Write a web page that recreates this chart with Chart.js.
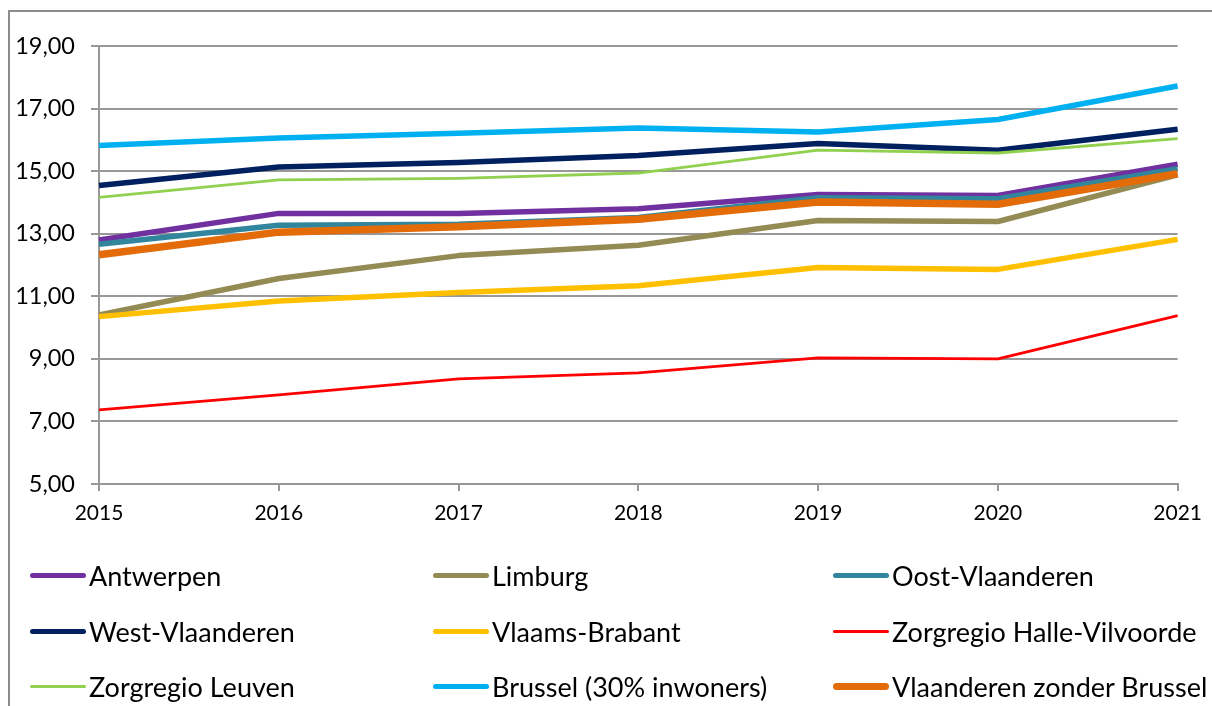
<!DOCTYPE html>
<html>
<head>
<meta charset="utf-8">
<script src="https://cdn.jsdelivr.net/npm/chart.js@4.4.1/dist/chart.umd.min.js"></script>
<style>
  html, body { margin: 0; padding: 0; width: 1212px; height: 706px; overflow: hidden; background: #fff; }
  #frame { position: absolute; left: 8px; top: 10px; width: 1400px; height: 900px; border-left: 2px solid #8c8c8c; border-top: 2px solid #8c8c8c; }
  #c { position: absolute; left: 0; top: 0; }
  #legend { position: absolute; left: 0; top: 0; width: 1212px; height: 706px; font-family: Lato, sans-serif; font-size: 27px; color: #000; }
  .item { position: absolute; display: flex; align-items: center; height: 30px; white-space: nowrap; }
  .swatch { width: 56px; border-radius: 4px; margin-right: 3px; }
</style>
</head>
<body>
<div id="frame"></div>
<canvas id="c" width="1212" height="706"></canvas>
<div id="legend"></div>
<script>
const years = ['2015', '2016', '2017', '2018', '2019', '2020', '2021'];
const seriesNames = ['Antwerpen', 'Limburg', 'Oost-Vlaanderen', 'West-Vlaanderen', 'Vlaams-Brabant',
  'Zorgregio Halle-Vilvoorde', 'Zorgregio Leuven', 'Brussel (30% inwoners)', 'Vlaanderen zonder Brussel'];
const antwerpen      = [12.80, 13.65, 13.65, 13.80, 14.25, 14.22, 15.22];
const limburg        = [10.40, 11.57, 12.30, 12.63, 13.42, 13.39, 14.88];
const oostVlaanderen = [12.66, 13.27, 13.30, 13.52, 14.15, 14.12, 15.08];
const westVlaanderen = [14.54, 15.13, 15.28, 15.50, 15.88, 15.67, 16.34];
const vlaamsBrabant  = [10.35, 10.85, 11.12, 11.34, 11.92, 11.86, 12.82];
const halleVilvoorde = [7.37, 7.85, 8.36, 8.55, 9.03, 9.00, 10.38];
const leuven         = [14.16, 14.72, 14.77, 14.94, 15.67, 15.58, 16.04];
const brussel        = [15.82, 16.06, 16.21, 16.38, 16.25, 16.65, 17.72];
const vlaanderen     = [12.33, 13.05, 13.22, 13.46, 14.01, 13.94, 14.92];
const yTickValues    = [5, 7, 9, 11, 13, 15, 17, 19];

const seriesData = [antwerpen, limburg, oostVlaanderen, westVlaanderen, vlaamsBrabant,
  halleVilvoorde, leuven, brussel, vlaanderen];
const colors = ['#7030A0', '#948A54', '#31859C', '#002060', '#FFC000', '#FF0000', '#92D050', '#00B0F0', '#E36C09'];
const widths = [5.5, 5.5, 5.5, 5.5, 5.5, 2.8, 2.8, 5.5, 7.5];

const gridColor = '#989898';
const N = seriesNames.length;
const datasets = seriesNames.map((name, i) => ({
  label: name,
  data: seriesData[i],
  borderColor: colors[i],
  backgroundColor: colors[i],
  borderWidth: widths[i],
  pointRadius: 0,
  pointHoverRadius: 0,
  tension: 0,
  fill: false,
  borderJoinStyle: 'round',
  order: N - i
}));

new Chart(document.getElementById('c'), {
  type: 'line',
  data: { labels: years, datasets },
  options: {
    responsive: false,
    animation: false,
    events: [],
    layout: { padding: { left: 0, right: 33, top: 46, bottom: 0 } },
    plugins: { legend: { display: false }, tooltip: { enabled: false } },
    scales: {
      x: {
        type: 'category',
        offset: false,
        grid: { drawOnChartArea: false, drawTicks: true, tickLength: 7, color: gridColor, lineWidth: 2 },
        border: { display: true, color: gridColor, width: 2 },
        ticks: { color: '#000', font: { family: 'Lato', size: 21 }, padding: 10, maxRotation: 0, autoSkip: false },
        afterFit: (s) => { s.height = 706 - 484; }
      },
      y: {
        min: 5, max: 19,
        afterBuildTicks: (s) => { s.ticks = yTickValues.map(v => ({ value: v })); },
        grid: { color: gridColor, lineWidth: 2, drawTicks: true, tickLength: 8 },
        border: { display: true, color: gridColor, width: 2 },
        ticks: {
          color: '#000', font: { family: 'Lato', size: 23.5 }, padding: 16,
          callback: (v) => Number(v).toFixed(2).replace('.', ',')
        },
        afterFit: (s) => { s.width = 99; }
      }
    }
  }
});

// Legend in 3 columns
const legend = document.getElementById('legend');
const colX = [30, 433, 833];
const rowY = [575, 631, 686];
seriesNames.forEach((name, i) => {
  const el = document.createElement('div');
  el.className = 'item';
  el.style.left = colX[i % 3] + 'px';
  el.style.top = (rowY[Math.floor(i / 3)] - 15) + 'px';
  const sw = document.createElement('div');
  sw.className = 'swatch';
  sw.style.height = Math.max(3, widths[i] - 0.5) + 'px';
  sw.style.background = colors[i];
  const tx = document.createElement('span');
  tx.textContent = name;
  el.appendChild(sw);
  el.appendChild(tx);
  legend.appendChild(el);
});
</script>
</body>
</html>
